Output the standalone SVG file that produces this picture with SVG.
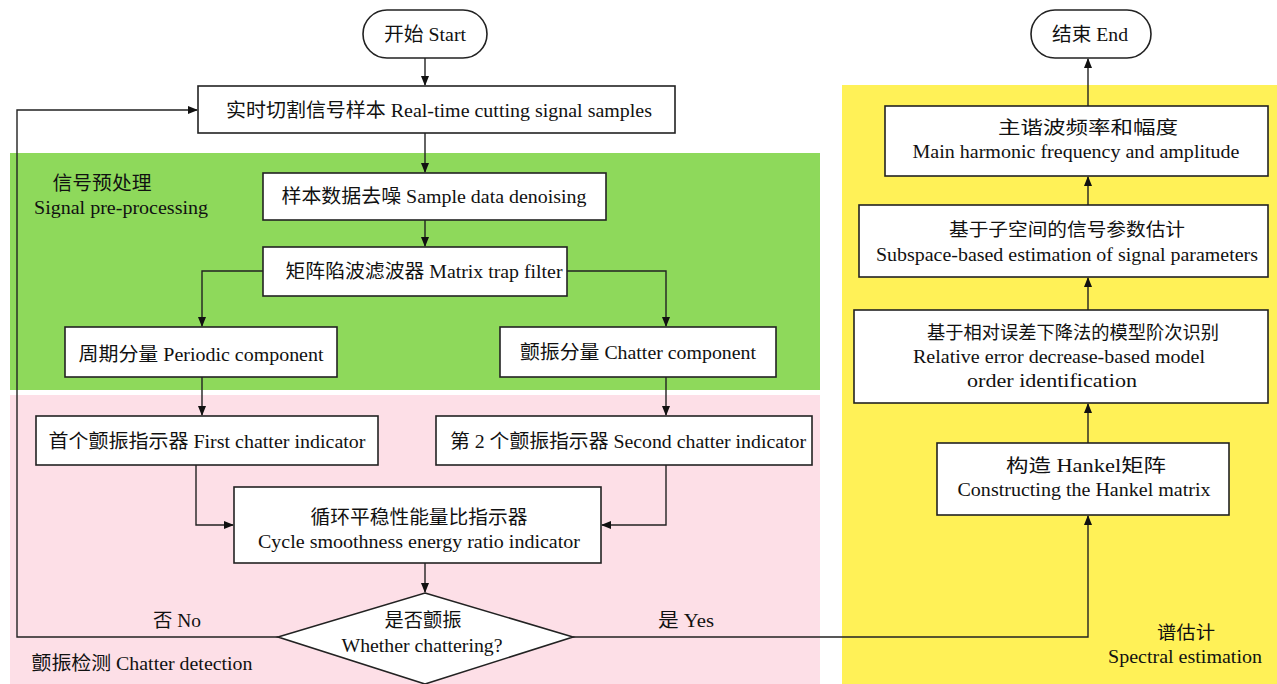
<svg xmlns="http://www.w3.org/2000/svg" width="1277" height="684" viewBox="0 0 1277 684">
<style>
.box{fill:#fff;stroke:#222;stroke-width:1.6}
.ln{fill:none;stroke:#222;stroke-width:1.4}
.t{font-family:"Liberation Serif","Noto Sans CJK SC",serif;font-size:19px;fill:#111;text-anchor:middle;dominant-baseline:central}
.r{font-size:18px}
</style>
<defs>
<marker id="ah" markerWidth="10" markerHeight="10" refX="9" refY="4" orient="auto" markerUnits="userSpaceOnUse">
<path d="M0,0 L10,4 L0,8 z" fill="#111"/>
</marker>
</defs>
<rect width="1277" height="684" fill="#fff"/>
<g id="regions">
<rect x="10" y="153" width="810" height="237" fill="#8ed95b"/>
<rect x="10" y="395" width="810" height="289" fill="#fddfe7"/>
<rect x="842" y="85" width="435" height="599" fill="#fff157"/>
<text class="t" x="102" y="183" textLength="99" lengthAdjust="spacingAndGlyphs">信号预处理</text>
<text class="t" x="121" y="207" textLength="174" lengthAdjust="spacingAndGlyphs">Signal pre-processing</text>
<text class="t" x="142" y="663" textLength="221" lengthAdjust="spacingAndGlyphs">颤振检测 Chatter detection</text>
<text class="t r" x="1186" y="633" textLength="58" lengthAdjust="spacingAndGlyphs">谱估计</text>
<text class="t r" x="1185" y="657" textLength="154" lengthAdjust="spacingAndGlyphs">Spectral estimation</text>
</g>
<g id="connectors">
<path class="ln" d="M425,58 V85" marker-end="url(#ah)"/>
<path class="ln" d="M425,133 V172" marker-end="url(#ah)"/>
<path class="ln" d="M425,220 V246" marker-end="url(#ah)"/>
<path class="ln" d="M263,271 H202 V326" marker-end="url(#ah)"/>
<path class="ln" d="M567,271 H666 V326" marker-end="url(#ah)"/>
<path class="ln" d="M202,377 V415" marker-end="url(#ah)"/>
<path class="ln" d="M666,377 V415" marker-end="url(#ah)"/>
<path class="ln" d="M196,465 V525 H233" marker-end="url(#ah)"/>
<path class="ln" d="M666,465 V525 H602" marker-end="url(#ah)"/>
<path class="ln" d="M425,563 V592" marker-end="url(#ah)"/>
<path class="ln" d="M278,637 H17 V110 H197" marker-end="url(#ah)"/>
<path class="ln" d="M573,637 H1088 V516" marker-end="url(#ah)"/>
<path class="ln" d="M1088,443 V404" marker-end="url(#ah)"/>
<path class="ln" d="M1088,310 V278" marker-end="url(#ah)"/>
<path class="ln" d="M1088,205 V177" marker-end="url(#ah)"/>
<path class="ln" d="M1088,106 V59" marker-end="url(#ah)"/>
<text class="t" x="177" y="620" textLength="48" lengthAdjust="spacingAndGlyphs">否 No</text>
<text class="t" x="686" y="620" textLength="56" lengthAdjust="spacingAndGlyphs">是 Yes</text>
</g>
<g id="start">
<rect class="box" x="363" y="10" width="124" height="48" rx="24"/>
<text class="t" x="425" y="34" textLength="82" lengthAdjust="spacingAndGlyphs">开始 Start</text>
</g>
<g id="sampling">
<rect class="box" x="198" y="86" width="477" height="47"/>
<text class="t" x="439" y="110" textLength="426" lengthAdjust="spacingAndGlyphs">实时切割信号样本 Real-time cutting signal samples</text>
</g>
<g id="denoise">
<rect class="box" x="263" y="173" width="343" height="47"/>
<text class="t" x="434" y="196" textLength="305" lengthAdjust="spacingAndGlyphs">样本数据去噪 Sample data denoising</text>
</g>
<g id="trap">
<rect class="box" x="263" y="247" width="304" height="49"/>
<text class="t" x="424" y="271" textLength="277" lengthAdjust="spacingAndGlyphs">矩阵陷波滤波器 Matrix trap filter</text>
</g>
<g id="periodic">
<rect class="box" x="65" y="327" width="272" height="50"/>
<text class="t" x="201" y="354" textLength="245" lengthAdjust="spacingAndGlyphs">周期分量 Periodic component</text>
</g>
<g id="chatter">
<rect class="box" x="500" y="327" width="276" height="50"/>
<text class="t" x="638" y="352" textLength="236" lengthAdjust="spacingAndGlyphs">颤振分量 Chatter component</text>
</g>
<g id="first">
<rect class="box" x="36" y="416" width="342" height="49"/>
<text class="t" x="207" y="441" textLength="317" lengthAdjust="spacingAndGlyphs">首个颤振指示器 First chatter indicator</text>
</g>
<g id="second">
<rect class="box" x="436" y="416" width="376" height="49"/>
<text class="t" x="628" y="441" textLength="356" lengthAdjust="spacingAndGlyphs">第 2 个颤振指示器 Second chatter indicator</text>
</g>
<g id="cycle">
<rect class="box" x="234" y="487" width="367" height="76"/>
<text class="t" x="419" y="517" textLength="217" lengthAdjust="spacingAndGlyphs">循环平稳性能量比指示器</text>
<text class="t" x="419" y="541" textLength="322" lengthAdjust="spacingAndGlyphs">Cycle smoothness energy ratio indicator</text>
</g>
<g id="decision">
<path class="box" d="M425,593 L573,637 L425,684 L278,637 z"/>
<text class="t" x="423" y="620" textLength="77" lengthAdjust="spacingAndGlyphs">是否颤振</text>
<text class="t" x="422" y="645" textLength="161" lengthAdjust="spacingAndGlyphs">Whether chattering?</text>
</g>
<g id="hankel">
<rect class="box" x="937" y="443" width="292" height="72"/>
<text class="t r" x="1086" y="466" textLength="160" lengthAdjust="spacingAndGlyphs">构造 Hankel矩阵</text>
<text class="t r" x="1084" y="490" textLength="253" lengthAdjust="spacingAndGlyphs">Constructing the Hankel matrix</text>
</g>
<g id="order">
<rect class="box" x="854" y="310" width="414" height="93"/>
<text class="t r" x="1073" y="333" textLength="292" lengthAdjust="spacingAndGlyphs">基于相对误差下降法的模型阶次识别</text>
<text class="t r" x="1059" y="357" textLength="292" lengthAdjust="spacingAndGlyphs">Relative error decrease-based model</text>
<text class="t r" x="1052" y="381" textLength="170" lengthAdjust="spacingAndGlyphs">order identification</text>
</g>
<g id="subspace">
<rect class="box" x="859" y="205" width="409" height="72"/>
<text class="t r" x="1067" y="230" textLength="236" lengthAdjust="spacingAndGlyphs">基于子空间的信号参数估计</text>
<text class="t r" x="1067" y="255" textLength="382" lengthAdjust="spacingAndGlyphs">Subspace-based estimation of signal parameters</text>
</g>
<g id="harmonic">
<rect class="box" x="885" y="106" width="383" height="70"/>
<text class="t r" x="1088" y="128" textLength="180" lengthAdjust="spacingAndGlyphs">主谐波频率和幅度</text>
<text class="t r" x="1076" y="152" textLength="327" lengthAdjust="spacingAndGlyphs">Main harmonic frequency and amplitude</text>
</g>
<g id="end">
<rect class="box" x="1031" y="10" width="120" height="48" rx="24"/>
<text class="t" x="1090" y="34" textLength="76" lengthAdjust="spacingAndGlyphs">结束 End</text>
</g>
</svg>
